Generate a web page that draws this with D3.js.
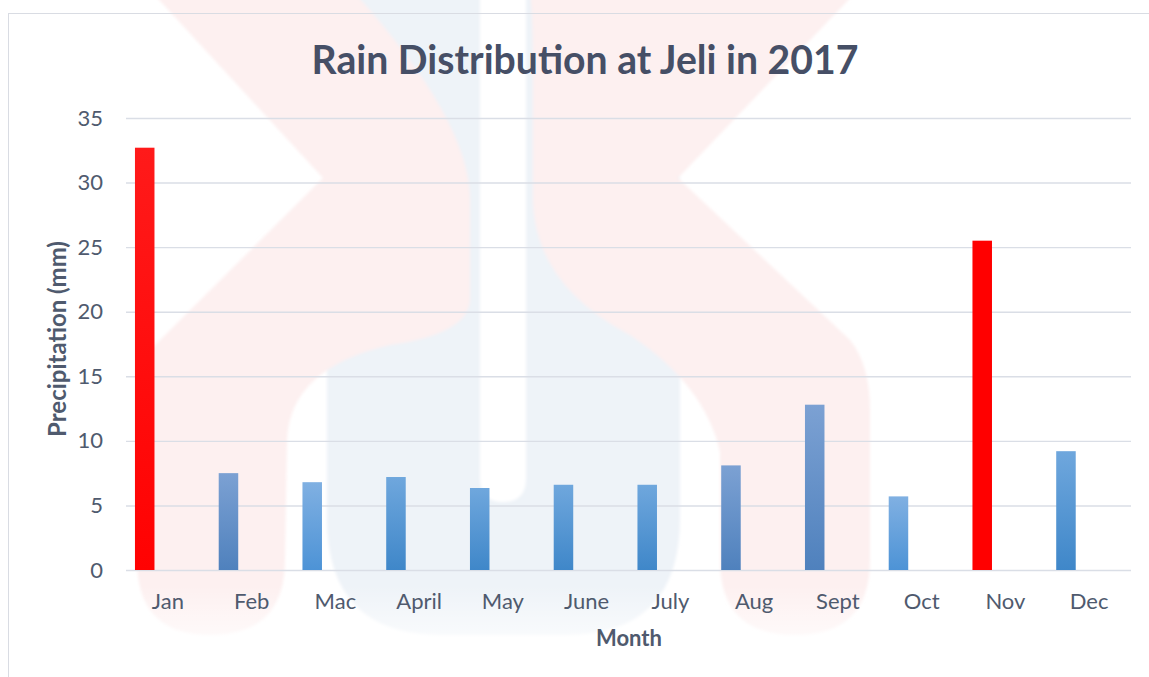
<!DOCTYPE html>
<html>
<head>
<meta charset="utf-8">
<script src="https://cdn.jsdelivr.net/npm/d3@7"></script>
<style>
  html, body { margin: 0; padding: 0; background: #ffffff; }
  svg { display: block; }
  text { font-family: Lato, "Open Sans", sans-serif; }
</style>
</head>
<body>
<svg id="chart" width="1149" height="677"></svg>
<script>
// Monthly rainfall at Jeli, 2017
const months = ["Jan", "Feb", "Mac", "April", "May", "June", "July", "Aug", "Sept", "Oct", "Nov", "Dec"];
const rainfall = [32.7, 7.5, 6.8, 7.2, 6.35, 6.6, 6.6, 8.1, 12.8, 5.7, 25.5, 9.2];
const yTicks = [0, 5, 10, 15, 20, 25, 30, 35];

// fill tone per month (visual styling only)
const monthTone = {
  Jan: "redSoft", Feb: "steel", Mac: "sky", April: "azure", May: "azure", June: "azure",
  July: "azure", Aug: "steel", Sept: "steel", Oct: "sky", Nov: "red", Dec: "azure"
};
const toneStops = {
  red:     ["#ff0000", "#ff0000"],
  redSoft: ["#ff1a1a", "#ff0202"],
  steel:   ["#7ca1d3", "#4f81bd"],
  sky:     ["#80b0e2", "#4d93d6"],
  azure:   ["#6fa7dd", "#3f87c9"]
};

const svg = d3.select("#chart");
const W = 1149, H = 677;
const plot = { left: 126, right: 1131, top: 118, bottom: 570 };

// ---- background logo watermark ----
const defs = svg.append("defs");
defs.append("filter").attr("id", "soft")
  .append("feGaussianBlur").attr("stdDeviation", 1.8);
const fade = defs.append("linearGradient").attr("id", "fade")
  .attr("x1", 0).attr("y1", 0).attr("x2", 0).attr("y2", 1);
fade.append("stop").attr("offset", "0%").attr("stop-color", "#fff").attr("stop-opacity", 0);
fade.append("stop").attr("offset", "100%").attr("stop-color", "#fff").attr("stop-opacity", 0.75);

const wm = svg.append("g").attr("filter", "url(#soft)");
// blue U-shape
wm.append("path")
  .attr("d", "M327,-10 L680,-10 L680,518 Q680,635 565,635 L442,635 Q327,635 327,518 Z")
  .attr("fill", "#eef3f8");
// white slit inside the U
wm.append("path")
  .attr("d", "M480,-10 L526,-10 L526,478 Q526,502 503,502 Q480,502 480,478 Z")
  .attr("fill", "#ffffff");
// left red chevron and leg
wm.append("path")
  .attr("d", "M150,-10 L352,-10 Q470,120 470,200 L470,300 Q468,334 390,345 Q290,368 287,440 L285,560 Q285,635 210,635 Q137,635 137,560 L142,358 L323,178 Z")
  .attr("fill", "#fdf0f0");
// right red chevron and leg
wm.append("path")
  .attr("d", "M530,-10 L858,-10 L678,178 L850,340 Q870,365 870,410 L870,560 Q870,635 795,635 Q720,635 720,560 L720,452 Q705,385 630,335 Q535,285 533,200 L533,60 Q533,20 530,-10 Z")
  .attr("fill", "#fdf0f0");
// soft haze over the lower edge of the logo
svg.append("rect").attr("x", 0).attr("y", 585).attr("width", W).attr("height", 60)
  .attr("fill", "url(#fade)");
svg.append("rect").attr("x", 0).attr("y", 645).attr("width", W).attr("height", 40)
  .attr("fill", "#ffffff").attr("fill-opacity", 0.75);

// chart frame
svg.append("rect")
  .attr("x", 8.5).attr("y", 13.5)
  .attr("width", W + 20).attr("height", H + 20)
  .attr("fill", "none").attr("stroke", "#d9dce3").attr("stroke-width", 1);

// ---- scales ----
const x = d3.scaleBand().domain(months).range([plot.left, plot.right]).paddingInner(0).paddingOuter(0);
const y = d3.scaleLinear().domain([0, 35]).range([plot.bottom, plot.top]);

// gradients for bar fills
Object.entries(toneStops).forEach(([key, [top, bottom]]) => {
  const g = defs.append("linearGradient").attr("id", "g-" + key)
    .attr("x1", 0).attr("y1", 0).attr("x2", 0).attr("y2", 1);
  g.append("stop").attr("offset", "0%").attr("stop-color", top);
  g.append("stop").attr("offset", "100%").attr("stop-color", bottom);
});

// ---- y axis with gridlines ----
const yAxis = svg.append("g")
  .attr("transform", `translate(${plot.left},0)`)
  .call(d3.axisLeft(y).tickValues(yTicks).tickSize(-(plot.right - plot.left)).tickPadding(23));
yAxis.select(".domain").remove();
yAxis.selectAll(".tick line").attr("stroke", "#dadee6").attr("stroke-width", 1.4);
yAxis.selectAll(".tick text")
  .attr("fill", "#4f5a6e").attr("font-size", 22).attr("font-family", "Lato, sans-serif");

// ---- bars ----
const bw = x.bandwidth();
svg.append("g").selectAll("rect")
  .data(months.map((m, i) => ({ month: m, value: rainfall[i] })))
  .join("rect")
  .attr("x", d => x(d.month) + bw * 0.107)
  .attr("width", bw * 0.233)
  .attr("y", d => y(d.value))
  .attr("height", d => y(0) - y(d.value))
  .attr("fill", d => `url(#g-${monthTone[d.month]})`);

// ---- x axis ----
const xAxis = svg.append("g")
  .attr("transform", `translate(0,${plot.bottom})`)
  .call(d3.axisBottom(x).tickSize(0).tickPadding(23));
xAxis.select(".domain").remove();
xAxis.selectAll(".tick text")
  .attr("fill", "#4f5a6e").attr("font-size", 22).attr("font-family", "Lato, sans-serif");

// ---- titles ----
function fitText(sel, base, span) {
  const w = sel.node().getComputedTextLength();
  sel.attr("font-size", base * span / w);
}

const title = svg.append("text")
  .attr("x", 585).attr("y", 74)
  .attr("text-anchor", "middle")
  .attr("font-weight", 700).attr("font-size", 36)
  .attr("fill", "#464f66")
  .text("Rain Distribution at Jeli in 2017");
fitText(title, 36, 547);

const xTitle = svg.append("text")
  .attr("x", 629).attr("y", 646)
  .attr("text-anchor", "middle")
  .attr("font-weight", 700).attr("font-size", 22)
  .attr("fill", "#4f5a6e")
  .text("Month");
fitText(xTitle, 22, 66);

const yTitle = svg.append("text")
  .attr("transform", "translate(66,339) rotate(-90)")
  .attr("text-anchor", "middle")
  .attr("font-weight", 700).attr("font-size", 22)
  .attr("fill", "#4f5a6e")
  .text("Precipitation (mm)");
fitText(yTitle, 22, 196);
</script>
</body>
</html>
